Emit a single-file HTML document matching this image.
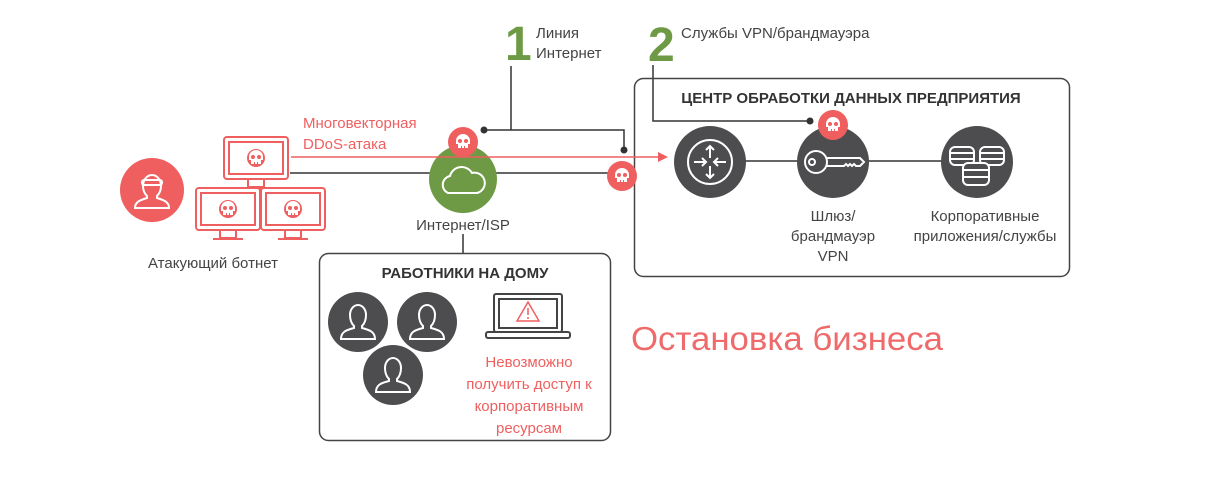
<!DOCTYPE html>
<html><head><meta charset="utf-8"><style>
html,body{margin:0;padding:0;background:#fff;width:1207px;height:479px;overflow:hidden}
svg{display:block}
text{font-family:"Liberation Sans","DejaVu Sans",sans-serif}
</style></head><body>
<svg width="1207" height="479" viewBox="0 0 1207 479" xmlns="http://www.w3.org/2000/svg">
<defs>
<g id="skull">
 <path d="M-7,-1 a7,7 0 1 1 14,0 v3 h-2 v4 h-10 v-4 h-2 z" fill="#fff"/>
 <circle cx="-3" cy="-1" r="2" fill="#ef5f5f"/><circle cx="3" cy="-1" r="2" fill="#ef5f5f"/>
 <rect x="-2" y="4" width="1" height="2" fill="#ef5f5f"/><rect x="1" y="4" width="1" height="2" fill="#ef5f5f"/>
</g>
<g id="person" fill="none" stroke="#fff" stroke-width="2">
 <path d="M-8,-7 a8,10 0 1 1 16,0 c0,7 -3,10 -4,11 l0,2 c8,2 13,4 13,11 h-34 c0,-7 5,-9 13,-11 l0,-2 c-1,-1 -4,-4 -4,-11z"/>
</g>
<g id="monitor" fill="none" stroke="#ef5f5f" stroke-width="2">
 <rect x="0" y="0" width="64" height="42" rx="3"/><rect x="5" y="5" width="54" height="32"/>
 <path d="M24,42 v8 h16 v-8 M17,51 h30" />
</g>
</defs>

<g stroke="#333" stroke-width="1.5" fill="none">
 <line x1="290" y1="173" x2="634" y2="173"/>
 <polyline points="511,66 511,130"/>
 <polyline points="484,130 624,130 624,150"/>
 <polyline points="653,65 653,121 810,121"/>
 <line x1="463" y1="234" x2="463" y2="253"/>
 <line x1="740" y1="161" x2="800" y2="161"/>
 <line x1="865" y1="161" x2="945" y2="161"/>
</g>
<circle cx="484" cy="130" r="3.5" fill="#333"/>
<circle cx="624" cy="150" r="3.5" fill="#333"/>
<circle cx="810" cy="121" r="3.5" fill="#333"/>

<rect x="634.5" y="78.5" width="435" height="198" rx="9" fill="none" stroke="#444" stroke-width="1.5"/>
<rect x="319.5" y="253.5" width="291" height="187" rx="9" fill="none" stroke="#444" stroke-width="1.5"/>

<circle cx="152" cy="190" r="32" fill="#ef5f5f"/>
<g fill="none" stroke="#fff" stroke-width="2">
 <path d="M143,186 a9,11 0 1 1 18,0 c0,6 -3,9 -4,10 v2 c7,2 12,4 12,10 h-34 c0,-6 5,-8 12,-10 v-2 c-1,-1 -4,-4 -4,-10z"/>
 <rect x="142" y="180" width="20" height="5" rx="2"/>
</g>

<use href="#monitor" x="224" y="137"/>
<use href="#monitor" x="196" y="188"/>
<use href="#monitor" x="261" y="188"/>
<circle cx="256" cy="158" r="9" fill="#ef5f5f"/><use href="#skull" x="256" y="158"/>
<circle cx="228" cy="209" r="9" fill="#ef5f5f"/><use href="#skull" x="228" y="209"/>
<circle cx="293" cy="209" r="9" fill="#ef5f5f"/><use href="#skull" x="293" y="209"/>
<text x="148" y="268" font-size="15" fill="#444">Атакующий ботнет</text>

<circle cx="463" cy="179" r="34" fill="#6e9a45"/>
<path d="M448,193 a9,9 0 0 1 2,-17 a12,12 0 0 1 22,-3 a10,10 0 0 1 5,20 z" fill="none" stroke="#fff" stroke-width="2"/>
<text x="463" y="230" font-size="15" fill="#444" text-anchor="middle">Интернет/ISP</text>

<line x1="291" y1="157" x2="660" y2="157" stroke="#ef5f5f" stroke-width="1.5"/>
<polygon points="668,157 658,152 658,162" fill="#ef5f5f"/>
<text x="303" y="128" font-size="15" fill="#ef5f5f">Многовекторная</text>
<text x="303" y="149" font-size="15" fill="#ef5f5f">DDoS-атака</text>

<circle cx="463" cy="142" r="15" fill="#ef5f5f"/><use href="#skull" x="463" y="142"/>
<circle cx="622" cy="176" r="15" fill="#ef5f5f"/><use href="#skull" x="622" y="176"/>

<text x="505" y="60" font-size="48" font-weight="bold" fill="#6e9a45">1</text>
<text x="536" y="38" font-size="15" fill="#444">Линия</text>
<text x="536" y="58" font-size="15" fill="#444">Интернет</text>
<text x="648" y="61" font-size="48" font-weight="bold" fill="#6e9a45">2</text>
<text x="681" y="38" font-size="15" fill="#444">Службы VPN/брандмауэра</text>

<text x="851" y="103" font-size="15" font-weight="bold" fill="#333" text-anchor="middle">ЦЕНТР ОБРАБОТКИ ДАННЫХ ПРЕДПРИЯТИЯ</text>
<circle cx="710" cy="162" r="36" fill="#4d4d4f"/>
<g fill="none" stroke="#fff" stroke-width="2">
 <circle cx="710" cy="162" r="22"/>
 <path d="M710,158 v-12 M706,150 l4,-4 4,4 M710,166 v12 M706,174 l4,4 4,-4 M694,162 h12 M702,158 l4,4 -4,4 M726,162 h-12 M718,158 l-4,4 4,4"/>
</g>
<circle cx="833" cy="162" r="36" fill="#4d4d4f"/>
<g fill="none" stroke="#fff" stroke-width="2">
 <circle cx="816" cy="162" r="11"/><circle cx="812" cy="162" r="3"/>
 <path d="M827,158 h33 l4,4 -4,4 h-4 l-2,-2 -2,2 -2,-2 -2,2 -2,-2 -2,2 h-17"/>
</g>
<circle cx="833" cy="125" r="15" fill="#ef5f5f"/><use href="#skull" x="833" y="125"/>
<circle cx="977" cy="162" r="36" fill="#4d4d4f"/>
<g fill="#4d4d4f" stroke="#fff" stroke-width="2">
 <rect x="950" y="147" width="24" height="18" rx="5"/>
 <rect x="980" y="147" width="24" height="18" rx="5"/>
 <rect x="963" y="163" width="26" height="22" rx="5"/>
 <path d="M950,153 h24 M950,159 h24 M980,153 h24 M980,159 h24 M963,170 h26 M963,177 h26"/>
</g>
<g font-size="15" fill="#444" text-anchor="middle">
 <text x="833" y="221">Шлюз/</text><text x="833" y="241">брандмауэр</text><text x="833" y="261">VPN</text>
 <text x="985" y="221">Корпоративные</text><text x="985" y="241">приложения/службы</text>
</g>

<text x="465" y="278" font-size="15" font-weight="bold" fill="#333" text-anchor="middle">РАБОТНИКИ НА ДОМУ</text>
<circle cx="358" cy="322" r="30" fill="#4d4d4f"/><use href="#person" x="358" y="322"/>
<circle cx="427" cy="322" r="30" fill="#4d4d4f"/><use href="#person" x="427" y="322"/>
<circle cx="393" cy="375" r="30" fill="#4d4d4f"/><use href="#person" x="393" y="375"/>
<g fill="none" stroke="#444" stroke-width="2">
 <rect x="494" y="294" width="68" height="38" rx="2"/><rect x="499" y="299" width="58" height="29"/>
 <rect x="486" y="332" width="84" height="6" rx="2"/>
</g>
<path d="M528,302 l11,19 h-22 z" fill="none" stroke="#ef5f5f" stroke-width="1.5"/>
<line x1="528" y1="308" x2="528" y2="315" stroke="#ef5f5f" stroke-width="1.5"/>
<circle cx="528" cy="318" r="1" fill="#ef5f5f"/>
<g font-size="15" fill="#ef5f5f" text-anchor="middle">
 <text x="529" y="367">Невозможно</text><text x="529" y="389">получить доступ к</text>
 <text x="529" y="411">корпоративным</text><text x="529" y="433">ресурсам</text>
</g>

<text x="631" y="350" font-size="33" fill="#ef6a6a" textLength="312" lengthAdjust="spacingAndGlyphs">Остановка бизнеса</text>
</svg>
</body></html>
